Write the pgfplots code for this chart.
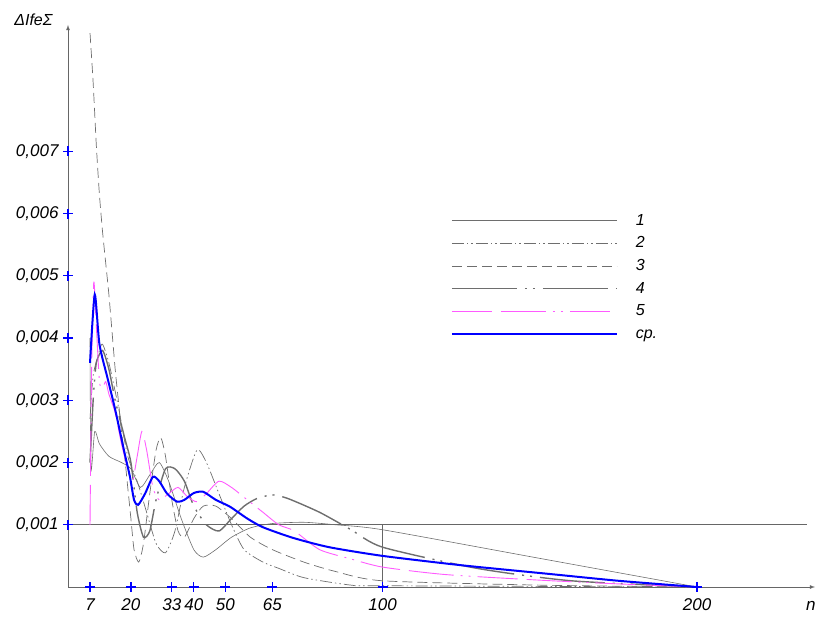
\documentclass[border=0pt]{standalone}
\usepackage{pgfplots}
\pgfplotsset{compat=1.18}
\usepackage{fontspec}
\setmainfont{Liberation Sans}
\definecolor{lgray}{RGB}{110,110,110}
\definecolor{pinkc}{RGB}{255,90,255}
\begin{document}
\begin{tikzpicture}
\begin{axis}[
  scale only axis, width=747pt, height=562pt,
  xmin=0, xmax=237.5, ymin=0, ymax=0.00903,
  axis x line=bottom, axis y line=left,
  axis line style={draw=gray!80!black, line width=0.8pt, -latex},
  clip=false,
  xtick={7,20,33,40,50,65,100,200},
  ytick={0.001,0.002,0.003,0.004,0.005,0.006,0.007},
  yticklabels={{0,001},{0,002},{0,003},{0,004},{0,005},{0,006},{0,007}},
  scaled y ticks=false,
  major tick length=0pt,
  /pgf/number format/assume math mode=true,
  tick label style={font=\fontsize{17}{17}\selectfont\itshape},
  xticklabel style={yshift=-8pt},
  yticklabel style={xshift=-6pt},
  legend style={at={(axis cs:120.7,0.00604)}, anchor=north west, draw=none, fill=none,
    font=\fontsize{16}{16}\selectfont\itshape,
    nodes={inner sep=0pt, text height=12pt, text depth=3pt},
    row sep=7.6pt, /tikz/every even column/.append style={column sep=18pt}},
  legend cell align=left,
  legend image code/.code={\draw[#1] (0pt,0pt) -- (165pt,0pt); \path (183pt,0pt);},
]
% reference lines
\addplot[forget plot, gray!80!black, line width=0.8pt] coordinates {(0,0.001)(235,0.001)};
\addplot[forget plot, gray!80!black, line width=0.8pt] coordinates {(100,0)(100,0.001)};

% 1 solid
\addplot[lgray, line width=0.6pt, smooth, tension=0.4] coordinates {
(7,0.0040)(7.3,0.0019)(8.5,0.0025)(10,0.0023)(13,0.0021)(17,0.0020)(20,0.0019)(23,0.0016)
(26,0.0018)(29,0.0020)(32,0.0017)(36,0.0011)(40,0.0006)(43,0.00048)(47,0.0006)(52,0.0008)
(58,0.00095)(65,0.00102)(75,0.00104)(85,0.00100)(100,0.00092)(150,0.00046)(200,0)};
\addlegendentry{1}
% 2 dash-dot-dot
\addplot[lgray, line width=0.7pt, smooth, tension=0.4,
  dash pattern=on 12pt off 3pt on 1.5pt off 3pt on 1.5pt off 3pt] coordinates {
(7,0.0027)(8,0.0034)(10,0.0038)(11,0.0039)(13,0.0036)(16,0.0029)(19,0.0021)(22,0.0017)
(25,0.0012)(28,0.0007)(31,0.00055)(34,0.0009)(37,0.0016)(41,0.0022)(44,0.0020)(48,0.0015)
(52,0.0010)(56,0.0006)(62,0.0004)(67,0.0003)(75,0.00015)(90,0.00003)(100,0.00002)(200,0)};
\addlegendentry{2}
% 3 dashed
\addplot[lgray, line width=0.7pt, smooth, tension=0.4,
  dash pattern=on 10pt off 5pt] coordinates {
(7,0.0089)(8,0.0081)(9,0.0071)(10,0.0063)(11,0.0057)(12,0.0052)(13,0.0047)(14,0.0041)
(15,0.0035)(16,0.0030)(17,0.0025)(18,0.0021)(19,0.0016)(20,0.0011)(21,0.0006)(22.5,0.0004)
(24,0.0007)(26,0.0015)(28,0.0022)(29.5,0.0024)(31,0.0021)(33,0.0014)(35,0.0009)(37,0.0008)
(40,0.0011)(43,0.0013)(47,0.0013)(52,0.0011)(58,0.0008)(65,0.0006)(75,0.0004)(85,0.00025)
(100,0.0001)(150,0.00003)(200,0)};
\addlegendentry{3}
% 4 long dash dot dot, thicker
\addplot[lgray, line width=1.4pt, smooth, tension=0.4,
  dash pattern=on 65pt off 8pt on 2pt off 6pt on 2pt off 8pt] coordinates {
(7,0.0020)(8,0.0030)(9,0.0036)(11,0.0038)(13,0.0035)(15,0.0030)(18,0.0024)(20,0.0020)
(22,0.0012)(24,0.0008)(26,0.0009)(28,0.0014)(31,0.0019)(34,0.0019)(37,0.0017)(40,0.0013)
(44,0.0010)(48,0.0009)(52,0.0011)(56,0.0013)(60,0.00142)(65,0.00148)(70,0.00142)(80,0.0012)
(90,0.00092)(100,0.00064)(130,0.0003)(160,0.0001)(200,0)};
\addlegendentry{4}
% 5 pink
\addplot[pinkc, line width=0.9pt, smooth, tension=0.4,
  dash pattern=on 40pt off 9pt on 45pt off 7pt on 2pt off 6pt on 2pt off 7pt] coordinates {
(7,0.0010)(7.5,0.0035)(8.2,0.0049)(9,0.0042)(10,0.0033)(11,0.0032)(12,0.0033)(13,0.0031)
(15,0.0028)(17,0.0023)(19,0.0019)(20.5,0.0017)(22,0.0021)(23.5,0.0025)(25,0.0022)(27,0.0016)
(29,0.0014)(32,0.0015)(35,0.0016)(38,0.00145)(41,0.00137)(44,0.0015)(48,0.0017)(52,0.0016)
(57,0.0014)(62,0.0012)(67,0.0010)(72,0.0009)(80,0.0006)(90,0.00045)(100,0.00032)(120,0.00020)
(150,0.00011)(175,0.00005)(200,0)};
\addlegendentry{5}
% average
\addplot[blue, line width=2pt, smooth, tension=0.4] coordinates {
(7,0.0036)(8.5,0.0047)(10,0.0039)(12.7,0.00333)(15,0.00285)(18,0.00215)(19.7,0.00177)
(21,0.0014)(22.3,0.00132)(24.5,0.0015)(27,0.00177)(29,0.0017)(31.5,0.0015)(34.7,0.00137)
(37,0.0014)(40,0.00151)(43,0.00153)(47,0.0014)(51.5,0.00129)(57,0.0011)(62,0.00096)
(71.5,0.00079)(83,0.00064)(100,0.0005)(125,0.00035)(153,0.00021)(175,0.0001)(200,0)};
\addlegendentry{ср.}

% blue tick crosses
\addplot[forget plot, only marks, mark=+, mark size=5pt, blue, line width=1.2pt] coordinates {
(7,0)(20,0)(33,0)(40,0)(50,0)(65,0)(100,0)(200,0)
(0,0.001)(0,0.002)(0,0.003)(0,0.004)(0,0.005)(0,0.006)(0,0.007)};

\node[font=\fontsize{16}{16}\selectfont\itshape, anchor=center] at (axis cs:-11,0.00911) {ΔIfeΣ};
\node[font=\fontsize{17}{17}\selectfont\itshape, anchor=center] at (axis cs:236.2,-0.0003) {n};
\end{axis}
\pgfresetboundingbox
\path[use as bounding box] ([xshift=-68pt,yshift=-32pt]current axis.south west) rectangle ([xshift=3pt,yshift=25pt]current axis.north east);
\end{tikzpicture}
\end{document}
